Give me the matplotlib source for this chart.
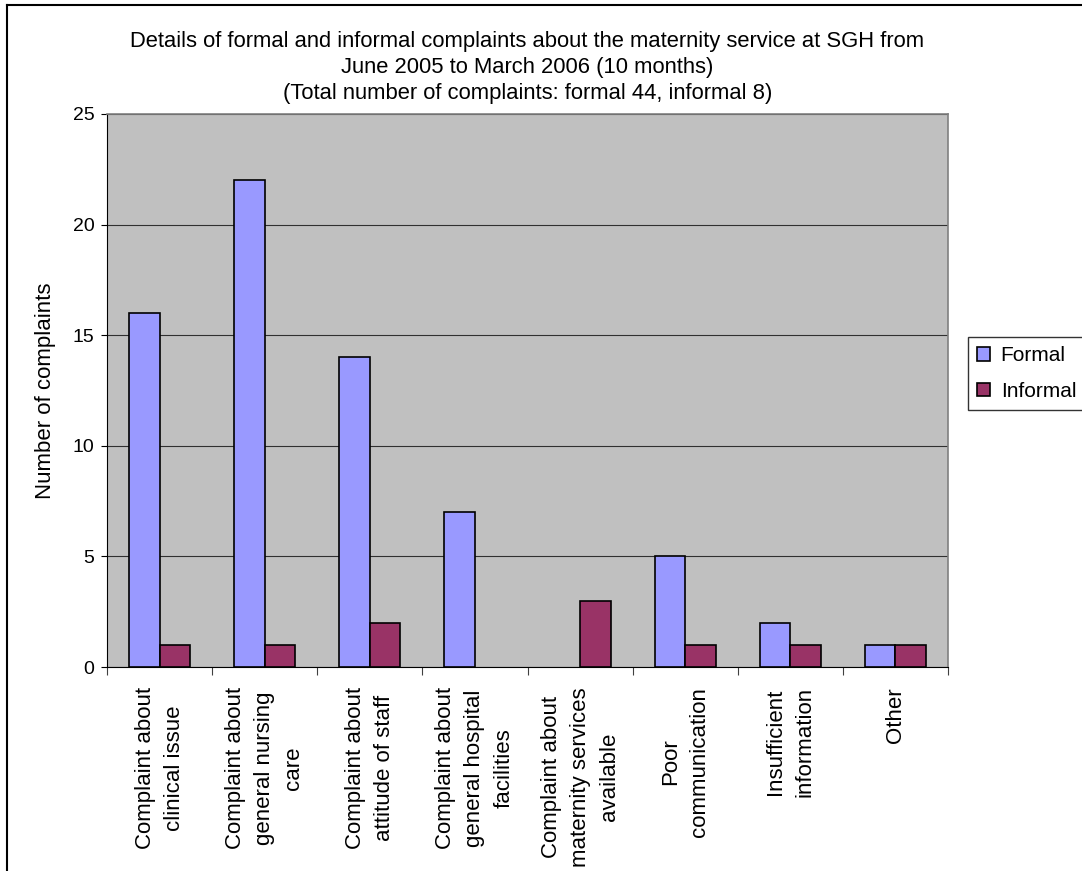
import matplotlib
matplotlib.use("Agg")
import matplotlib.pyplot as plt
import numpy as np
from matplotlib.lines import Line2D

plt.rcParams['font.family'] = ['Liberation Sans', 'DejaVu Sans']

categories = [
    "Complaint about\nclinical issue",
    "Complaint about\ngeneral nursing\ncare",
    "Complaint about\nattitude of staff",
    "Complaint about\ngeneral hospital\nfacilities",
    "Complaint about\nmaternity services\navailable",
    "Poor\ncommunication",
    "Insufficient\ninformation",
    "Other",
]
formal = [16, 22, 14, 7, 0, 5, 2, 1]
informal = [1, 1, 2, 0, 3, 1, 1, 1]
series_names = ["Formal", "Informal"]
yticks = [0, 5, 10, 15, 20, 25]
title_lines = [
    "Details of formal and informal complaints about the maternity service at SGH from",
    "June 2005 to March 2006 (10 months)",
    "(Total number of complaints: formal 44, informal 8)",
]

W, H = 1082, 871
fig = plt.figure(figsize=(W / 100, H / 100), dpi=100)
ax = fig.add_axes([107 / W, 1 - 667 / H, (948 - 107) / W, (667 - 114) / H])
ax.set_facecolor('#C0C0C0')

x = np.arange(len(categories))
bw = 0.29
bars_f = ax.bar(x - bw / 2, formal, width=bw, color='#9999FF', edgecolor='black',
                linewidth=1.2, label=series_names[0], zorder=3)
bars_i = ax.bar(x + bw / 2, informal, width=bw, color='#993366', edgecolor='black',
                linewidth=1.2, label=series_names[1], zorder=3)
# empty bars leave no outline on the axis
for b in list(bars_f) + list(bars_i):
    if b.get_height() == 0:
        b.set_visible(False)

ax.set_xlim(-0.5, len(categories) - 0.5)
ax.set_ylim(0, 25)
ax.set_yticks(yticks)
ax.tick_params(axis='y', labelsize=14, length=4, direction='out', pad=5)
ax.yaxis.grid(True, color='#303030', linewidth=0.8, zorder=1)
ax.set_axisbelow(True)

# category boundaries carry the tick marks; labels sit at centres
ax.set_xticks(np.arange(len(categories) + 1) - 0.5)
ax.set_xticklabels([])
ax.tick_params(axis='x', length=6, direction='out', color='#404040')
for xi, lab in zip(x, categories):
    ax.text(xi, -0.036, lab, transform=ax.get_xaxis_transform(),
            rotation=90, ha='center', va='top', fontsize=16,
            multialignment='center', linespacing=1.5)

for side in ['top', 'right']:
    ax.spines[side].set_color('#808080')
    ax.spines[side].set_linewidth(1.2)
ax.spines['left'].set_color('black')
ax.spines['bottom'].set_color('black')

ax.set_ylabel("Number of complaints", fontsize=16, labelpad=12)

cx = 0.5 * (107 + 948) / W
for ypix, line in zip([41, 67, 93], title_lines):
    fig.text(cx, 1 - ypix / H, line, ha='center', va='center', fontsize=15.8)

leg = fig.legend(loc='upper left', bbox_to_anchor=(968 / W, 1 - 337 / H),
                 fontsize=15, frameon=True, fancybox=False, edgecolor='black',
                 handlelength=0.62, handleheight=0.62, handletextpad=0.5,
                 borderpad=0.45, labelspacing=0.8, borderaxespad=0)
leg.get_frame().set_linewidth(1.0)

# outer chart frame (left and top edges)
fig.add_artist(Line2D([7 / W, 7 / W], [0, 1 - 5 / H], color='black', linewidth=1.5,
                      transform=fig.transFigure))
fig.add_artist(Line2D([7 / W, 1], [1 - 5 / H, 1 - 5 / H], color='black', linewidth=1.5,
                      transform=fig.transFigure))

fig.savefig("out.png", dpi=100, facecolor='white')
